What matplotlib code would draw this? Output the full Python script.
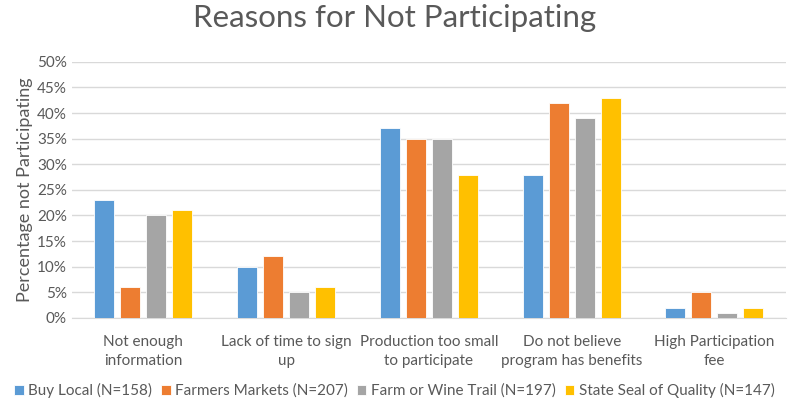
import numpy as np
import matplotlib.pyplot as plt
from matplotlib.ticker import PercentFormatter

# Reasons for not participating, percent per program
categories = ["Not enough\ninformation", "Lack of time to sign\nup",
              "Production too small\nto participate",
              "Do not believe\nprogram has benefits", "High Participation\nfee"]
series = ["Buy Local (N=158)", "Farmers Markets (N=207)",
          "Farm or Wine Trail (N=197)", "State Seal of Quality (N=147)"]
buy_local = [23, 10, 37, 28, 2]
farmers_markets = [6, 12, 35, 42, 5]
wine_trail = [20, 5, 35, 39, 1]
seal_quality = [21, 6, 28, 43, 2]

colors = ["#5b9bd5", "#ed7d31", "#a5a5a5", "#ffc000"]
txt = "#595959"

plt.rcParams['font.family'] = ['Lato', 'DejaVu Sans']

fig = plt.figure(figsize=(7.89, 4.07), dpi=100)
ax = fig.add_axes([0.091, 0.219, 0.905, 0.629])

x = np.arange(len(categories))
w = 0.14
pitch = 0.182
for i, (vals, name) in enumerate(zip([buy_local, farmers_markets, wine_trail, seal_quality], series)):
    ax.bar(x + (i - 1.5) * pitch, vals, w, color=colors[i], label=name,
           edgecolor="white", linewidth=0.6, zorder=3)

ax.set_xlim(-0.5, len(categories) - 0.5)
ax.set_ylim(0, 50)
ax.set_yticks(range(0, 51, 5))
ax.yaxis.set_major_formatter(PercentFormatter(decimals=0))
ax.grid(axis="y", color="#d9d9d9", linewidth=1, zorder=0)
for s in ["top", "right", "left"]:
    ax.spines[s].set_visible(False)
ax.spines["bottom"].set_color("#d9d9d9")
ax.tick_params(axis="both", length=0, colors=txt, labelsize=11)
ax.tick_params(axis="x", pad=12)
ax.set_xticks(x)
ax.set_xticklabels(categories, fontsize=11, color=txt, linespacing=1.5)
ax.set_ylabel("Percentage not Participating", color=txt, fontsize=13, labelpad=3)

fig.suptitle("Reasons for Not Participating", color=txt, fontsize=22.5, y=0.99)

fig.legend(loc="lower center", ncol=4, frameon=False, fontsize=11,
           labelcolor=txt, handlelength=0.6, handleheight=0.6,
           handletextpad=0.3, columnspacing=0.6, bbox_to_anchor=(0.5, -0.012))

fig.savefig("out.png", dpi=100)
